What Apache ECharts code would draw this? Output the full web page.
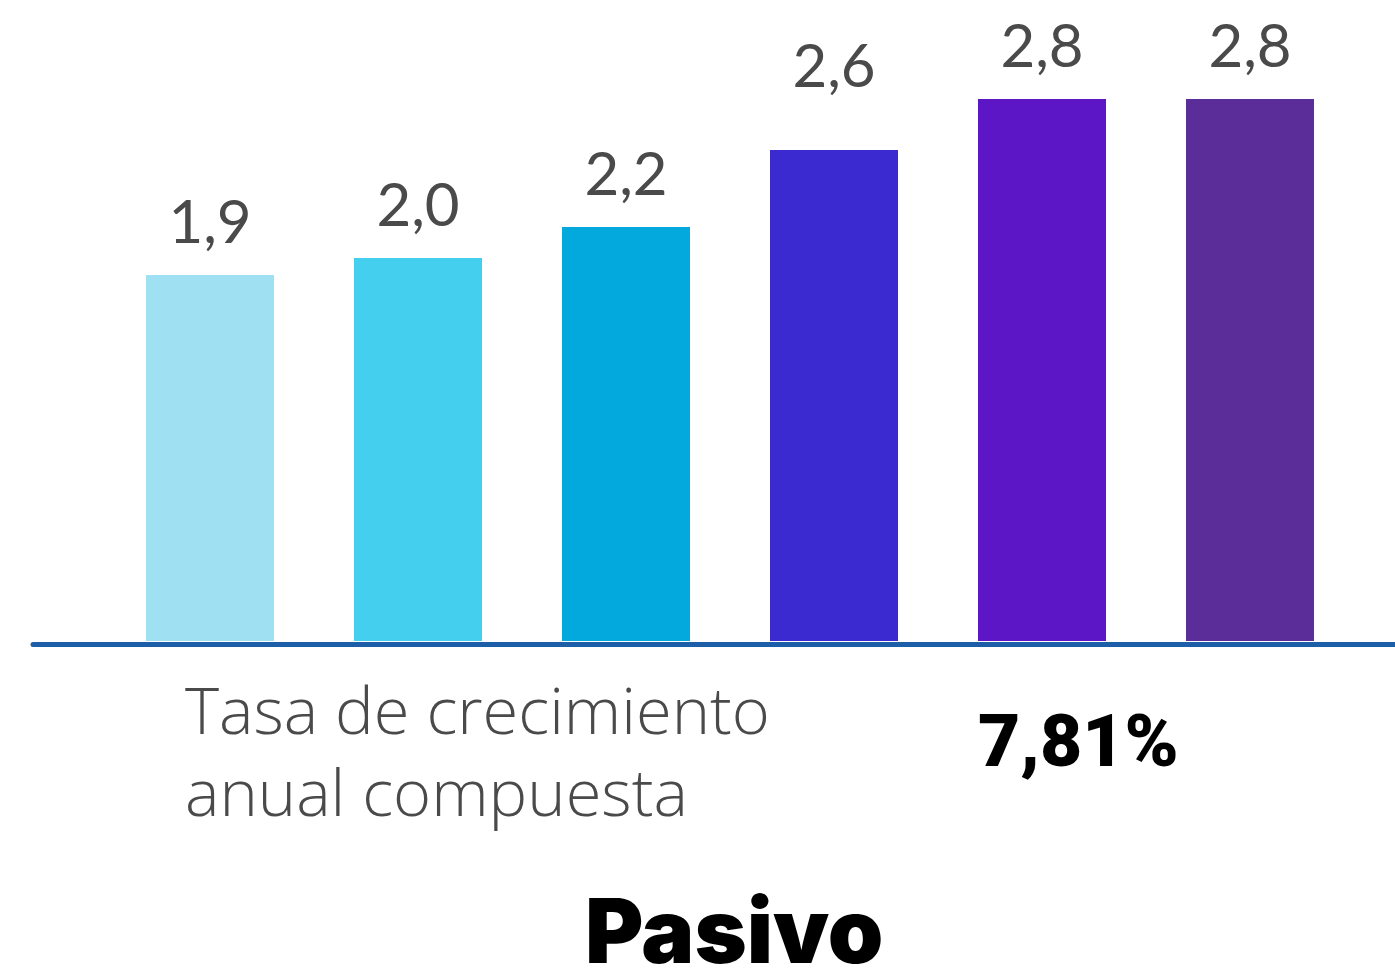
<!DOCTYPE html>
<html><head><meta charset="utf-8">
<script src="https://cdn.jsdelivr.net/npm/echarts@6/dist/echarts.min.js"></script>
<style>html,body{margin:0;padding:0;background:#fff}#c{width:1395px;height:973px}</style>
</head><body><div id="c"></div>
<script>
const categories = ['A','B','C','D','E','F'];
const values = [1.906, 1.995, 2.156, 2.557, 2.823, 2.823];
const barColors = ['#9fe1f3','#43cfed','#03a9dd','#3b2ad0','#5c16c6','#5a2d98'];
const cagrLabel = ['Tasa de crecimiento', 'anual compuesta'];
const cagrValue = '7,81%';
const chartTitle = 'Pasivo';

const FONT = 'Lato';
const chart = echarts.init(document.getElementById('c'));
chart.setOption({
  backgroundColor: '#fff',
  animation: false,
  grid: [
    {left: 106, right: 41, top: 65, bottom: 332},
    {left: 33, right: 0, top: 65, bottom: 329}
  ],
  xAxis: [
    {type: 'category', data: categories, gridIndex: 0, axisLine: {show: false}, axisTick: {show: false}, axisLabel: {show: false}},
    {type: 'category', data: categories, gridIndex: 1, axisLine: {show: true, lineStyle: {color: '#1c5fa8', width: 5}}, axisTick: {show: false}, axisLabel: {show: false}}
  ],
  yAxis: [
    {type: 'value', gridIndex: 0, min: 0, max: 3, show: false, splitLine: {show: false}},
    {type: 'value', gridIndex: 1, min: 0, max: 3, show: false, splitLine: {show: false}}
  ],
  title: [
    {text: cagrLabel.join('\n'), left: 185, top: 674, padding: 0, textStyle: {fontFamily: 'Open Sans', fontWeight: 300, fontSize: 65, lineHeight: 82, color: '#4a4a4a'}},
    {text: cagrValue, left: 978, top: 711, padding: 0, textStyle: {fontFamily: 'Roboto', fontWeight: 900, fontSize: 73, lineHeight: 73, color: '#000'}},
    {text: chartTitle, left: 585, top: 892, padding: 0, textStyle: {fontFamily: 'Inter', fontWeight: 900, fontSize: 89, lineHeight: 89, color: '#000'}}
  ],
  series: [{
    type: 'bar', xAxisIndex: 0, yAxisIndex: 0,
    barWidth: 128,
    data: values.map((v, i) => ({
      value: v,
      itemStyle: {color: barColors[i]},
      label: i === 3 ? {distance: 52} : undefined
    })),
    label: {
      show: true, position: 'top', distance: 21,
      fontFamily: FONT, fontSize: 60, color: '#4a4a4a', lineHeight: 60,
      formatter: p => p.value.toFixed(1).replace('.', ',')
    }
  }]
});
</script></body></html>
